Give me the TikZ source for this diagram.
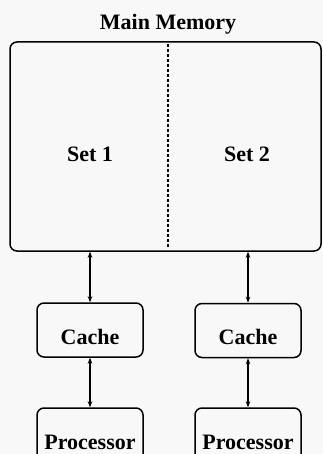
\documentclass[tikz,border=0pt]{standalone}
\usepackage{fontspec}
\setmainfont{Liberation Serif}
\usetikzlibrary{arrows.meta}
\definecolor{bg}{RGB}{248,248,248}
\begin{document}
\begin{tikzpicture}[x=1pt,y=-1pt,
  box/.style={draw, line width=1.5pt, rounded corners=7pt, inner sep=0pt},
  lbl/.style={font=\fontsize{22}{24}\selectfont\bfseries},
  link/.style={line width=1.3pt, {Stealth[length=6pt,width=4.5pt]}-{Stealth[length=6pt,width=4.5pt]}}]
\useasboundingbox (0,0) rectangle (323,454);
\clip (0,0) rectangle (323,454);
\fill[bg] (0,0) rectangle (323,454);
\node[lbl] (title) at (168,24) {Main Memory};
\node[box, minimum width=311pt, minimum height=209pt] (mem) at (165.5,146.5) {};
\draw[line width=1.3pt, dash pattern=on 3pt off 2pt] (168,44) coordinate (d1) -- (168,247) coordinate (d2);
\node[lbl] (s1) at (90,154) {Set 1};
\node[lbl] (s2) at (247,154) {Set 2};
\node[box, minimum width=106pt, minimum height=54pt, lbl, text height=28pt, text depth=0pt] (c1) at (90,330) {Cache};
\node[box, minimum width=106pt, minimum height=54pt, lbl, text height=28pt, text depth=0pt] (c2) at (248,330.5) {Cache};
\node[box, minimum width=106pt, minimum height=68pt, lbl] (p1) at (90,442) {Processor};
\node[box, minimum width=106pt, minimum height=68pt, lbl] (p2) at (248,442) {Processor};
\draw[link] (mem.south -| c1.north) -- (c1.north);
\draw[link] (mem.south -| c2.north) -- (c2.north);
\draw[link] (c1.south) -- (p1.north);
\draw[link] (c2.south) -- (p2.north);
\end{tikzpicture}
\end{document}
